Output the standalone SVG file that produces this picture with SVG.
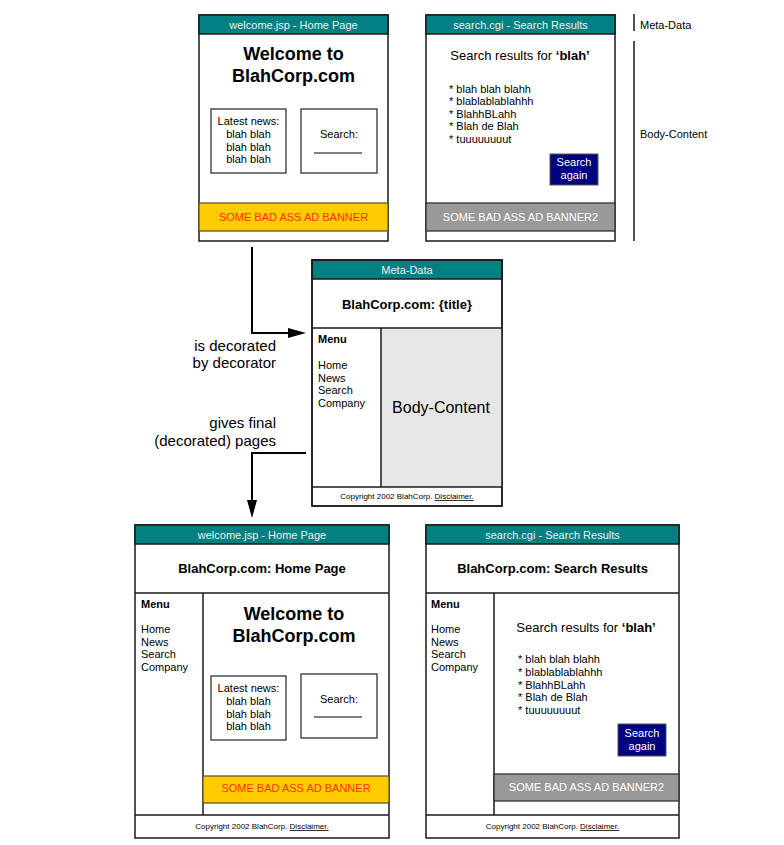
<svg xmlns="http://www.w3.org/2000/svg" width="784" height="845" viewBox="0 0 784 845">
<style>
text{font-family:"Liberation Sans",Arial,sans-serif;fill:#000}
.frame{fill:#fff;stroke:#1a1a1a;stroke-width:1.5}
.hdr{fill:#008080;stroke:#1a1a1a;stroke-width:1.5}
.hdrt{font-size:11px;fill:#f2f2f2;text-anchor:middle}
.div{stroke:#1a1a1a;stroke-width:1.5;fill:none}
.box{fill:#fff;stroke:#333;stroke-width:1.3}
.t11{font-size:11px}
.c{text-anchor:middle}
.b{font-weight:bold}
.ttl{font-size:13px;font-weight:bold;text-anchor:middle}
.big{font-size:18px;font-weight:bold;text-anchor:middle}
.ad1{fill:#FFCC00;stroke:#5a5a2a;stroke-width:1.3}
.ad1t{font-size:11px;fill:#FF3300;text-anchor:middle}
.ad2{fill:#999999;stroke:#333;stroke-width:1.3}
.ad2t{font-size:11px;fill:#fff;text-anchor:middle}
.btn{fill:#000080;stroke:#555;stroke-width:1}
.btnt{font-size:11px;fill:#fff;text-anchor:middle}
.copy{font-size:8px;text-anchor:middle}
.lbl{font-size:15px;text-anchor:end}
.conn{stroke:#000;stroke-width:2;fill:none}
.ul{stroke:#000;stroke-width:1}
</style>

<!-- Top-left: welcome.jsp source -->
<g id="src-welcome">
<rect class="frame" x="199" y="15" width="189" height="226"/>
<rect class="hdr" x="199" y="15" width="189" height="19"/>
<text class="hdrt" x="293.5" y="28.5">welcome.jsp - Home Page</text>
<text class="big" x="293.5" y="60">Welcome to</text>
<text class="big" x="293.5" y="82">BlahCorp.com</text>
<rect class="box" x="211" y="109" width="75" height="64"/>
<text class="t11 c" x="248.5" y="125">Latest news:</text>
<text class="t11 c" x="248.5" y="138">blah blah</text>
<text class="t11 c" x="248.5" y="151">blah blah</text>
<text class="t11 c" x="248.5" y="163">blah blah</text>
<rect class="box" x="301" y="109" width="76" height="64"/>
<text class="t11 c" x="339" y="138">Search:</text>
<line class="ul" x1="314" y1="153" x2="362" y2="153"/>
<rect class="ad1" x="199" y="203" width="189" height="28"/>
<text class="ad1t" x="293.5" y="220.5">SOME BAD ASS AD BANNER</text>
</g>

<!-- Top-right: search.cgi source -->
<g id="src-search">
<rect class="frame" x="426" y="15" width="189" height="226"/>
<rect class="hdr" x="426" y="15" width="189" height="19"/>
<text class="hdrt" x="520.5" y="28.5">search.cgi - Search Results</text>
<text x="520" y="60" style="font-size:13px;text-anchor:middle">Search results for <tspan class="b">‘blah’</tspan></text>
<text class="t11" x="449" y="92.5">* blah blah blahh</text>
<text class="t11" x="449" y="105">* blablablablahhh</text>
<text class="t11" x="449" y="117.5">* BlahhBLahh</text>
<text class="t11" x="449" y="130">* Blah de Blah</text>
<text class="t11" x="449" y="142.5">* tuuuuuuuut</text>
<rect class="btn" x="550" y="154" width="48" height="31"/>
<text class="btnt" x="574" y="166">Search</text>
<text class="btnt" x="574" y="179">again</text>
<rect class="ad2" x="426" y="203" width="189" height="28"/>
<text class="ad2t" x="520.5" y="220.5">SOME BAD ASS AD BANNER2</text>
</g>

<!-- Right legend -->
<g id="legend">
<line class="div" x1="634" y1="14" x2="634" y2="31"/>
<text class="t11" x="640" y="29">Meta-Data</text>
<line class="div" x1="634" y1="41" x2="634" y2="241"/>
<text class="t11" x="640" y="138">Body-Content</text>
</g>

<!-- Middle: decorator -->
<g id="decorator">
<rect class="frame" x="312" y="260" width="190" height="246"/>
<rect x="381" y="328" width="121" height="159" fill="#E6E6E6"/>
<rect class="hdr" x="312" y="260" width="190" height="19"/>
<text class="hdrt" x="407" y="273.5">Meta-Data</text>
<text class="ttl" x="407" y="308.5">BlahCorp.com: {title}</text>
<line class="div" x1="312" y1="328" x2="502" y2="328"/>
<line class="div" x1="381" y1="328" x2="381" y2="487"/>
<line class="div" x1="312" y1="487" x2="502" y2="487"/>
<rect x="312" y="260" width="190" height="246" fill="none" stroke="#1a1a1a" stroke-width="1.5"/>
<text class="t11 b" x="318" y="343">Menu</text>
<text class="t11" x="318" y="369">Home</text>
<text class="t11" x="318" y="381.5">News</text>
<text class="t11" x="318" y="394">Search</text>
<text class="t11" x="318" y="406.5">Company</text>
<text x="441" y="413" style="font-size:16px;text-anchor:middle">Body-Content</text>
<text class="copy" x="407" y="499">Copyright 2002 BlahCorp. <tspan text-decoration="underline">Disclaimer.</tspan></text>
</g>

<!-- Connectors -->
<g id="connectors">
<path class="conn" d="M252,247 V333 H290"/>
<polygon points="306,333 288,328 288,338" fill="#000"/>
<path class="conn" d="M306,453 H252 V502"/>
<polygon points="252,518 247,500 257,500" fill="#000"/>
<text class="lbl" x="276" y="351">is decorated</text>
<text class="lbl" x="276" y="368">by decorator</text>
<text class="lbl" x="276" y="428">gives final</text>
<text class="lbl" x="276" y="446">(decorated) pages</text>
</g>

<!-- Bottom-left: decorated welcome -->
<g id="out-welcome">
<rect class="frame" x="135" y="525" width="254" height="313"/>
<rect class="hdr" x="135" y="525" width="254" height="19"/>
<text class="hdrt" x="262" y="538.5">welcome.jsp - Home Page</text>
<text class="ttl" x="262" y="572.5">BlahCorp.com: Home Page</text>
<line class="div" x1="135" y1="593" x2="389" y2="593"/>
<line class="div" x1="203" y1="593" x2="203" y2="815"/>
<line class="div" x1="135" y1="815" x2="389" y2="815"/>
<text class="t11 b" x="141" y="608">Menu</text>
<text class="t11" x="141" y="633">Home</text>
<text class="t11" x="141" y="645.5">News</text>
<text class="t11" x="141" y="658">Search</text>
<text class="t11" x="141" y="670.5">Company</text>
<text class="big" x="294" y="619.5">Welcome to</text>
<text class="big" x="294" y="641.5">BlahCorp.com</text>
<rect class="box" x="211" y="676" width="75" height="64"/>
<text class="t11 c" x="248.5" y="692">Latest news:</text>
<text class="t11 c" x="248.5" y="705">blah blah</text>
<text class="t11 c" x="248.5" y="717.5">blah blah</text>
<text class="t11 c" x="248.5" y="730">blah blah</text>
<rect class="box" x="301" y="674" width="76" height="64"/>
<text class="t11 c" x="339" y="703">Search:</text>
<line class="ul" x1="314" y1="717" x2="362" y2="717"/>
<rect class="ad1" x="203" y="776" width="186" height="27"/>
<text class="ad1t" x="296" y="792">SOME BAD ASS AD BANNER</text>
<text class="copy" x="262" y="829">Copyright 2002 BlahCorp. <tspan text-decoration="underline">Disclaimer.</tspan></text>
</g>

<!-- Bottom-right: decorated search -->
<g id="out-search">
<rect class="frame" x="426" y="525" width="253" height="313"/>
<rect class="hdr" x="426" y="525" width="253" height="19"/>
<text class="hdrt" x="552.5" y="538.5">search.cgi - Search Results</text>
<text class="ttl" x="552.5" y="572.5">BlahCorp.com: Search Results</text>
<line class="div" x1="426" y1="593" x2="679" y2="593"/>
<line class="div" x1="494" y1="593" x2="494" y2="815"/>
<line class="div" x1="426" y1="815" x2="679" y2="815"/>
<text class="t11 b" x="431" y="608">Menu</text>
<text class="t11" x="431" y="633">Home</text>
<text class="t11" x="431" y="645.5">News</text>
<text class="t11" x="431" y="658">Search</text>
<text class="t11" x="431" y="670.5">Company</text>
<text x="586" y="631.5" style="font-size:13px;text-anchor:middle">Search results for <tspan class="b">‘blah’</tspan></text>
<text class="t11" x="518" y="663">* blah blah blahh</text>
<text class="t11" x="518" y="676">* blablablablahhh</text>
<text class="t11" x="518" y="688.5">* BlahhBLahh</text>
<text class="t11" x="518" y="701">* Blah de Blah</text>
<text class="t11" x="518" y="714">* tuuuuuuuut</text>
<rect class="btn" x="618" y="724" width="48" height="32"/>
<text class="btnt" x="642" y="737">Search</text>
<text class="btnt" x="642" y="750">again</text>
<rect class="ad2" x="494" y="774" width="185" height="27"/>
<text class="ad2t" x="586.5" y="791">SOME BAD ASS AD BANNER2</text>
<text class="copy" x="552.5" y="829">Copyright 2002 BlahCorp. <tspan text-decoration="underline">Disclaimer.</tspan></text>
</g>
</svg>
